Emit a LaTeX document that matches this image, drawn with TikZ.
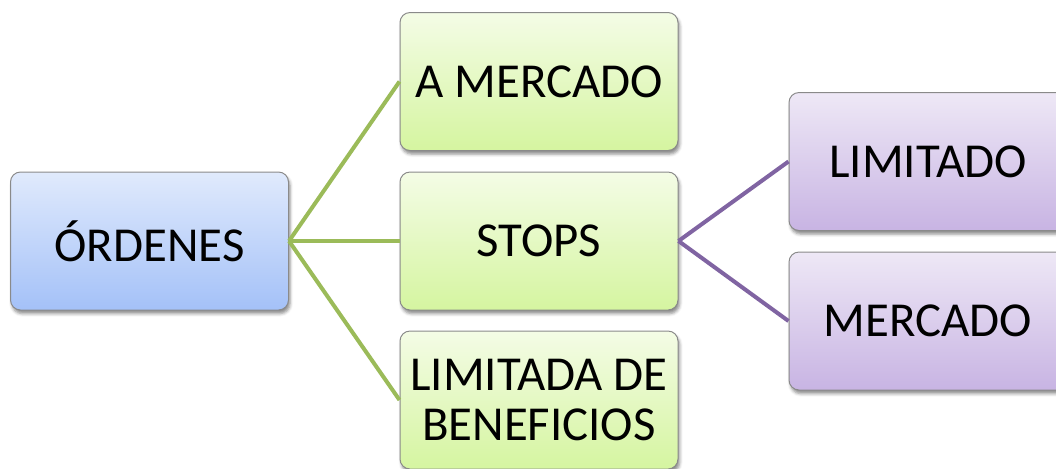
\documentclass[tikz,border=0pt]{standalone}
\usepackage{fontspec}
\setmainfont{Carlito}
\usetikzlibrary{shadows.blur}
\definecolor{bluetop}{HTML}{E0EAFC}
\definecolor{bluebot}{HTML}{A4C1F8}
\definecolor{greentop}{HTML}{F4FCE6}
\definecolor{greenbot}{HTML}{D5F5A0}
\definecolor{purtop}{HTML}{EEE8F6}
\definecolor{purbot}{HTML}{C8B4E3}
\definecolor{boxline}{HTML}{8A8A8A}
\definecolor{greenline}{HTML}{9BBB59}
\definecolor{purline}{HTML}{8064A2}
\begin{document}
\begin{tikzpicture}[x=0.5pt,y=-0.5pt,
  box/.style={draw=boxline, line width=0.5pt, rounded corners=5pt,
    minimum width=139pt, minimum height=69pt, inner sep=0pt,
    align=center, font=\fontsize{24.4}{25}\selectfont,
    blur shadow={shadow xshift=0.8pt, shadow yshift=-1.8pt, shadow blur radius=1.5pt, shadow opacity=45}},
  bluebox/.style={box, top color=bluetop, bottom color=bluebot},
  greenbox/.style={box, top color=greentop, bottom color=greenbot},
  purbox/.style={box, top color=purtop, bottom color=purbot},
  gline/.style={draw=greenline, line width=2pt},
  pline/.style={draw=purline, line width=2pt}]
\useasboundingbox (0,0) rectangle (1056,468);
\node[bluebox] (ord) at (149.5,241) {ÓRDENES};
\node[greenbox] (am) at (539,81.5) {A MERCADO};
\node[greenbox] (st) at (539,241) {STOPS};
\node[greenbox] (lb) at (539,400) {LIMITADA DE\\BENEFICIOS};
\node[purbox] (li) at (928,161.5) {LIMITADO};
\node[purbox] (me) at (928,321) {MERCADO};
\draw[gline] (ord.east) -- (am.west);
\draw[gline] (ord.east) -- (st.west);
\draw[gline] (ord.east) -- (lb.west);
\draw[pline] (st.east) -- (li.west);
\draw[pline] (st.east) -- (me.west);
\end{tikzpicture}
\end{document}
